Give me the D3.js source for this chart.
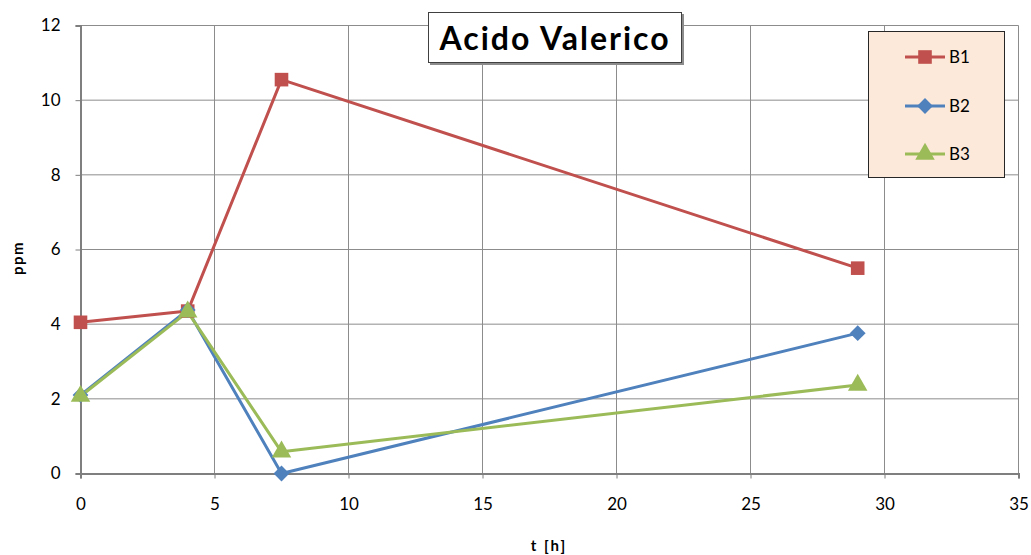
<!DOCTYPE html>
<html><head><meta charset="utf-8">
<script src="https://cdn.jsdelivr.net/npm/d3@7"></script>
<style>body{margin:0;background:#fff}svg{display:block}text{font-family:Lato,"Open Sans",sans-serif}</style>
</head><body>
<svg id="c" width="1031" height="555"></svg>
<script>
const xTicks=[0,5,10,15,20,25,30,35];
const yTicks=[0,2,4,6,8,10,12];
const times=[0,4,7.5,29];
const seriesNames=["B1","B2","B3"];
const B1=[4.05,4.35,10.55,5.5];
const B2=[2.1,4.38,0,3.76];
const B3=[2.07,4.33,0.58,2.37];
const colors=["#C0504D","#4F81BD","#9BBB59"];
const shapes=["square","diamond","triangle"];
const seriesVals=[B1,B2,B3];

const svg=d3.select("#c");
const x=d3.scaleLinear().domain([0,35]).range([80.5,1018.5]);
const y=d3.scaleLinear().domain([0,12]).range([473.5,25.5]);

// grid
svg.append("g").selectAll("line").data(yTicks.filter(d=>d>0)).join("line")
 .attr("x1",x(0)).attr("x2",x(35)).attr("y1",d=>y(d)).attr("y2",d=>y(d))
 .attr("stroke","#8c8c8c").attr("stroke-width",1);
svg.append("g").selectAll("line").data(xTicks.filter(d=>d>0)).join("line")
 .attr("x1",d=>x(d)).attr("x2",d=>x(d)).attr("y1",y(0)).attr("y2",y(12))
 .attr("stroke","#8c8c8c").attr("stroke-width",1);

// axes
const xa=svg.append("g").attr("transform",`translate(0,${y(0)})`)
 .call(d3.axisBottom(x).tickValues(xTicks).tickSize(5).tickPadding(19).tickFormat(d3.format("d")));
const ya=svg.append("g").attr("transform",`translate(${x(0)},0)`)
 .call(d3.axisLeft(y).tickValues(yTicks).tickSize(5).tickPadding(15).tickFormat(d3.format("d")));
[xa,ya].forEach(a=>{a.select(".domain").attr("stroke","#7f7f7f").attr("stroke-width",2);
 a.selectAll(".tick line").attr("stroke","#7f7f7f");
 a.selectAll(".tick text").attr("font-size",17).attr("fill","#000").style("font-family","Lato,'Open Sans',sans-serif");});

// series
const diamond={draw(ctx,size){const r=Math.sqrt(size/2);ctx.moveTo(0,-r);ctx.lineTo(r,0);ctx.lineTo(0,r);ctx.lineTo(-r,0);ctx.closePath();}};
const sym={square:d3.symbolSquare,diamond:diamond,triangle:d3.symbolTriangle};
const symSize={square:185,diamond:125,triangle:165};
const line=d3.line().x((d,i)=>x(times[i])).y(d=>y(d));
seriesVals.forEach((vals,k)=>{
 svg.append("path").datum(vals).attr("d",line).attr("fill","none")
  .attr("stroke",colors[k]).attr("stroke-width",3).attr("stroke-linejoin","round");
});
seriesVals.forEach((vals,k)=>{
 svg.append("g").selectAll("path").data(vals).join("path")
  .attr("transform",(d,i)=>`translate(${x(times[i])},${y(d)})`)
  .attr("d",d3.symbol().type(sym[shapes[k]]).size(symSize[shapes[k]]))
  .attr("fill",colors[k]);
});

// title
svg.append("rect").attr("x",430).attr("y",14).attr("width",254).attr("height",51).attr("fill","#8c8c8c");
svg.append("rect").attr("x",428.5).attr("y",12.5).attr("width",253).attr("height",50)
 .attr("fill","#fff").attr("stroke","#404040").attr("stroke-width",1);
svg.append("text").attr("x",555).attr("y",50).attr("text-anchor","middle")
 .attr("font-size",32).attr("font-weight","bold").attr("letter-spacing",2).text("Acido Valerico");

// legend
const lg=svg.append("g");
lg.append("rect").attr("x",868.5).attr("y",31.5).attr("width",136).attr("height",146)
 .attr("fill","#FDE9D9").attr("stroke","#262626").attr("stroke-width",1);
const ly=[57,106,154];
seriesNames.forEach((n,k)=>{
 lg.append("line").attr("x1",905).attr("x2",945).attr("y1",ly[k]).attr("y2",ly[k])
  .attr("stroke",colors[k]).attr("stroke-width",3);
 lg.append("path").attr("transform",`translate(925,${ly[k]})`)
  .attr("d",d3.symbol().type(sym[shapes[k]]).size(symSize[shapes[k]])).attr("fill",colors[k]);
 lg.append("text").attr("x",949).attr("y",ly[k]+6).attr("font-size",17).text(n);
});

// axis titles
svg.append("text").attr("transform","translate(23,258) rotate(-90)").attr("text-anchor","middle")
 .attr("font-size",15).attr("font-weight","bold").attr("letter-spacing",1.5).text("ppm");
svg.append("text").attr("x",549).attr("y",551).attr("text-anchor","middle")
 .attr("font-size",15).attr("font-weight","bold").attr("letter-spacing",2).text("t [h]");
</script>
</body></html>
